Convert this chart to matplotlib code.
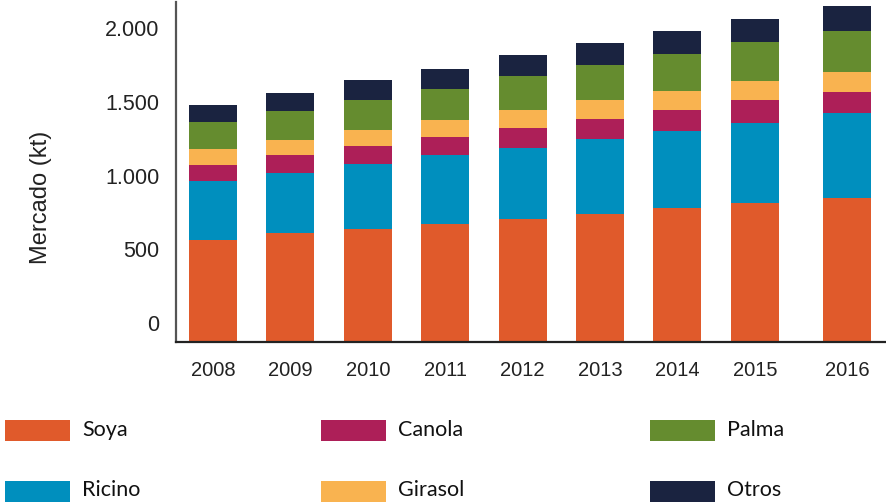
import matplotlib
matplotlib.use("agg")
import matplotlib.pyplot as plt
import matplotlib.transforms as mtransforms
from matplotlib.patches import Rectangle
from matplotlib.ticker import FuncFormatter
import numpy as np

years = ['2008', '2009', '2010', '2011', '2012', '2013', '2014', '2015', '2016']
soya = [692, 740, 767, 801, 834, 868, 909, 943, 977]
ricino = [400, 407, 441, 468, 482, 509, 522, 543, 577]
canola = [109, 122, 122, 122, 136, 136, 142, 156, 142]
girasol = [109, 102, 109, 115, 122, 129, 129, 129, 136]
palma = [183, 197, 204, 210, 231, 237, 251, 265, 278]
otros = [115, 122, 136, 136, 142, 149, 156, 156, 170]

labels = ['Soya', 'Ricino', 'Canola', 'Girasol', 'Palma', 'Otros']
colors = ['#E05A2B', '#008FBE', '#AD1F58', '#F9B350', '#658C2F', '#1A2340']
series = [soya, ricino, canola, girasol, palma, otros]

fig = plt.figure(figsize=(8.86, 5.03), dpi=100)
ax = fig.add_axes([176 / 886, 161 / 503, 710 / 886, 340 / 503])

x = np.arange(len(years), dtype=float)
x[-1] += 0.19  # last year sits a bit further out
bottom = np.zeros(len(years))
for vals, lab, col in zip(series, labels, colors):
    ax.bar(x, vals, width=0.62, bottom=bottom, color=col, label=lab,
           linewidth=0)
    bottom += np.array(vals)

ax.set_xlim(-0.478, 8.695)
ax.set_ylim(0, 2307)
ax.set_yticks([0, 500, 1000, 1500, 2000])
ax.yaxis.set_major_formatter(
    FuncFormatter(lambda v, p: '{:,.0f}'.format(v).replace(',', '.')))
ax.set_xticks(x)
ax.set_xticklabels(years)
ax.tick_params(axis='both', length=0)
ax.tick_params(axis='y', pad=12)
ax.tick_params(axis='x', pad=14)
for t in ax.get_yticklabels():
    t.set_fontfamily('Liberation Sans')
    t.set_fontsize(15.5)
    t.set_color('#222222')
    t.set_transform(t.get_transform() +
                    mtransforms.ScaledTranslation(0, 0.19, fig.dpi_scale_trans))
for t in ax.get_xticklabels():
    t.set_fontfamily('Liberation Sans')
    t.set_fontsize(14.5)
    t.set_color('#222222')

ax.set_ylabel('Mercado (kt)', fontfamily='Liberation Sans', fontsize=17,
              color='#222222')
ax.yaxis.set_label_coords(-0.175, 0.426, transform=ax.transAxes)

for s in ['top', 'right']:
    ax.spines[s].set_visible(False)
ax.spines['left'].set_color('#555555')
ax.spines['left'].set_linewidth(1.6)
ax.spines['bottom'].set_color('#222222')
ax.spines['bottom'].set_linewidth(1.6)

# legend drawn by hand in two rows of three columns
leg_cols = [5, 321, 650]
leg_rows = [420, 481]
order = [['Soya', 'Canola', 'Palma'], ['Ricino', 'Girasol', 'Otros']]
W, H = 886.0, 503.0
for r, row in enumerate(order):
    for c, lab in enumerate(row):
        col = colors[labels.index(lab)]
        x0, y0 = leg_cols[c], leg_rows[r]
        fig.add_artist(Rectangle((x0 / W, 1 - (y0 + 21) / H), 65 / W, 21 / H,
                                 transform=fig.transFigure, color=col, lw=0))
        fig.text((x0 + 77) / W, 1 - (y0 + 9.5) / H, lab, fontfamily='Lato',
                 fontsize=15.5, color='#111111', va='center', ha='left')

fig.savefig('out.png', dpi=100)
